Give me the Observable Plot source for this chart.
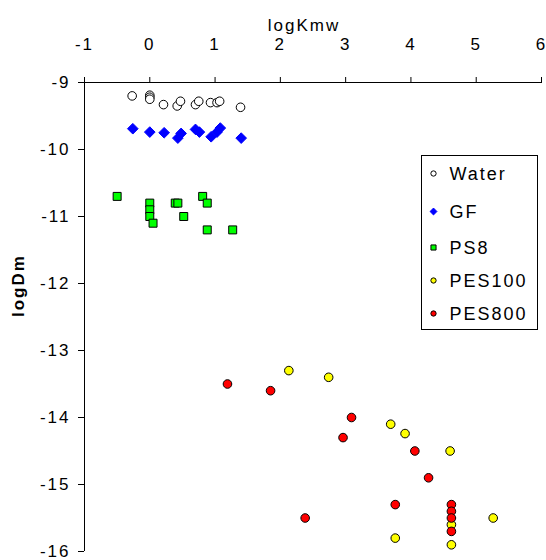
<!DOCTYPE html>
<html>
<head>
<meta charset="utf-8">
<script src="https://cdn.jsdelivr.net/npm/d3@7"></script>
<script src="https://cdn.jsdelivr.net/npm/@observablehq/plot@0.6"></script>
<style>
  html, body { margin: 0; padding: 0; background: #fff; }
  #wrap { position: relative; width: 546px; height: 560px; font-family: "Liberation Sans", Arial, sans-serif; }
  #wrap svg text { letter-spacing: 2px; }
  #legend { position: absolute; left: 421px; top: 155px; }
</style>
</head>
<body>
<div id="wrap"></div>
<script>
const xTicks = [-1, 0, 1, 2, 3, 4, 5, 6];
const yTicks = [-9, -10, -11, -12, -13, -14, -15, -16];
const seriesNames = ["Water", "GF", "PS8", "PES100", "PES800"];
const seriesFill = ["#FFFFFF", "#0000FF", "#00FF00", "#FFFF00", "#FF0000"];
const seriesStroke = ["#000000", "#0000FF", "#000000", "#000000", "#000000"];
const seriesSymbol = ["circle", "diamond2", "square", "circle", "circle"];

const waterX = [-0.27, 0.0, 0.0, 0.0, 0.21, 0.42, 0.47, 0.70, 0.75, 0.93, 1.03, 1.07, 1.39];
const waterY = [-9.2, -9.19, -9.22, -9.25, -9.33, -9.35, -9.28, -9.33, -9.28, -9.3, -9.3, -9.28, -9.37];

const gfX = [-0.26, 0.0, 0.22, 0.43, 0.48, 0.70, 0.76, 0.94, 1.03, 1.08, 1.40];
const gfY = [-9.69, -9.74, -9.75, -9.83, -9.76, -9.7, -9.74, -9.81, -9.74, -9.68, -9.83];

const ps8X = [-0.5, 0.0, 0.0, 0.0, 0.05, 0.39, 0.43, 0.52, 0.81, 0.88, 0.88, 1.27];
const ps8Y = [-10.7, -10.8, -10.9, -11.0, -11.1, -10.8, -10.8, -11.0, -10.7, -10.8, -11.2, -11.2];

const pes100X = [2.13, 2.74, 3.69, 3.91, 4.6, 4.62, 4.62, 5.26, 3.76];
const pes100Y = [-13.3, -13.4, -14.1, -14.24, -14.5, -15.6, -15.9, -15.5, -15.8];

const pes800X = [1.19, 1.85, 3.09, 2.96, 4.06, 4.27, 3.76, 2.38, 4.62, 4.62, 4.62, 4.62];
const pes800Y = [-13.5, -13.6, -14.0, -14.3, -14.5, -14.9, -15.3, -15.5, -15.3, -15.4, -15.5, -15.7];

const seriesX = [waterX, gfX, ps8X, pes100X, pes800X];
const seriesY = [waterY, gfY, ps8Y, pes100Y, pes800Y];
const seriesR = [4.3, 4.8, 4.5, 4.3, 4.3];

const rows = seriesNames.map((name, i) => seriesX[i].map((x, j) => ({series: name, x, y: seriesY[i][j]})));

const dotMarks = rows.map((data, i) => Plot.dot(data, {
  x: "x", y: "y",
  symbol: () => seriesSymbol[i],
  r: seriesR[i],
  fill: seriesFill[i],
  stroke: seriesStroke[i],
  strokeWidth: 1
}));

const fmt = d => String(d).replace("−", "-");

const chart = Plot.plot({
  width: 546,
  height: 560,
  marginLeft: 84,
  marginTop: 82,
  marginRight: 5,
  marginBottom: 9,
  style: {fontFamily: "'Liberation Sans', Arial, sans-serif", fontSize: "17px", color: "#000", background: "#fff", overflow: "visible"},
  x: {domain: [xTicks[0], xTicks[xTicks.length - 1]]},
  y: {domain: [yTicks[yTicks.length - 1], yTicks[0]]},
  symbol: {type: "identity"},
  marks: [
    Plot.axisX({anchor: "top", ticks: xTicks, tickSize: 6, tickPadding: 27, tickFormat: fmt, label: null, fontSize: 17}),
    Plot.axisY({anchor: "left", ticks: yTicks, tickSize: 6, tickPadding: 8, tickFormat: fmt, label: null, fontSize: 17}),
    Plot.ruleY([yTicks[0]], {stroke: "#000"}),
    Plot.ruleX([xTicks[0]], {stroke: "#000"}),
    Plot.text(["logKmw"], {frameAnchor: "top", dx: -9, dy: -52, fontSize: 17, lineAnchor: "bottom"}),
    Plot.text(["logDm"], {frameAnchor: "left", dx: -66, rotate: -90, fontSize: 17, fontWeight: "bold"}),
    ...dotMarks
  ]
});

const wrap = document.getElementById("wrap");
wrap.appendChild(chart);

// Legend
const lw = 116, lh = 174;
const rowY = [18, 56, 92, 125, 158];
const leg = d3.select(wrap).append("svg").attr("id", "legend")
  .attr("width", lw + 1).attr("height", lh + 1);
leg.append("rect").attr("x", 0.5).attr("y", 0.5).attr("width", lw).attr("height", lh)
  .attr("fill", "#fff").attr("stroke", "#000");
const sym = {circle: d3.symbolCircle, diamond2: d3.symbolDiamond2, square: d3.symbolSquare};
const legSize = [22, 30, 26, 22, 22];
seriesNames.forEach((name, i) => {
  const g = leg.append("g").attr("transform", `translate(12.5, ${rowY[i] + 0.5})`);
  g.append("path").attr("d", d3.symbol(sym[seriesSymbol[i]], legSize[i])())
    .attr("fill", seriesFill[i]).attr("stroke", seriesStroke[i]).attr("stroke-width", 1);
  g.append("text").attr("x", 16).attr("y", 0).attr("dy", "0.36em")
    .attr("font-family", "'Liberation Sans', Arial, sans-serif").attr("font-size", 18)
    .attr("letter-spacing", "2px")
    .text(name);
});
</script>
</body>
</html>
